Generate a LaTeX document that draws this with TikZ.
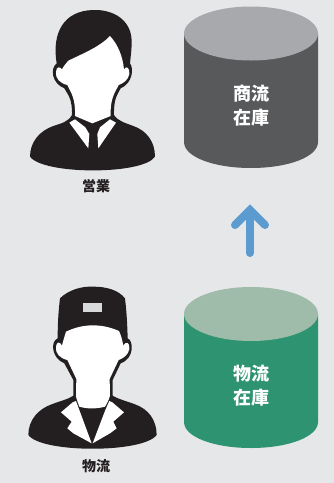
\documentclass[tikz,border=0pt]{standalone}
\usepackage{fontspec}
\newfontfamily\cjk{Noto Sans CJK JP}
\definecolor{bg}{HTML}{E6E7E9}
\definecolor{ink}{HTML}{231F20}
\definecolor{greytop}{HTML}{A7A9AC}
\definecolor{greybody}{HTML}{58595B}
\definecolor{greentop}{HTML}{9FBBA9}
\definecolor{greenbody}{HTML}{2E9370}
\definecolor{arrowblue}{HTML}{5B9BD0}
\definecolor{badge}{HTML}{D8D9DB}
\tikzset{
  cyltext/.style={text=white,font=\cjk\bfseries\fontsize{18}{24}\selectfont,align=center,inner sep=0pt},
  personlabel/.style={text=ink,font=\cjk\bfseries\fontsize{14}{15}\selectfont,inner sep=0pt},
  zoomed/.style={x=0.3333pt,y=-0.3333pt}
}
\begin{document}
\begin{tikzpicture}[x=1pt,y=-1pt]
\useasboundingbox (0,0) rectangle (334,483);
\fill[bg] (0,0) rectangle (334,483);

% sales person
\begin{scope}[shift={(10,0)},zoomed]
\fill[ink] (250,30) .. controls (310,28) and (365,60) .. (365,125)
  .. controls (365,150) and (362,170) .. (360,190)
  .. controls (372,205) and (368,250) .. (332,265)
  .. controls (322,285) and (311,295) .. (312,345)
  .. controls (325,365) and (350,370) .. (370,378)
  .. controls (410,392) and (435,425) .. (435,470)
  .. controls (400,525) and (100,525) .. (60,470)
  .. controls (60,425) and (90,392) .. (130,378)
  .. controls (155,370) and (175,365) .. (186,345)
  .. controls (187,295) and (174,285) .. (163,265)
  .. controls (125,250) and (120,205) .. (140,190)
  .. controls (125,100) and (160,32) .. (250,30) -- cycle;
\fill[white] (175,182) .. controls (220,160) and (270,140) .. (300,108)
  .. controls (325,135) and (338,170) .. (342,208)
  .. controls (350,195) and (360,205) .. (358,222)
  .. controls (355,240) and (340,250) .. (326,255)
  .. controls (315,278) and (300,295) .. (302,348)
  -- (247,370) -- (195,348)
  .. controls (197,295) and (183,278) .. (172,255)
  .. controls (150,250) and (135,235) .. (138,215)
  .. controls (140,198) and (150,200) .. (156,208)
  .. controls (160,200) and (168,190) .. (175,182) -- cycle;
\fill[white] (178,368) -- (195,358) -- (226,382) -- (238,402) -- (235,445) -- cycle;
\fill[white] (318,368) -- (300,358) -- (270,382) -- (262,402) -- (265,445) -- cycle;
\end{scope}

% logistics person
\begin{scope}[shift={(10,275)},zoomed]
\fill[ink] (150,70) .. controls (175,45) and (215,33) .. (250,35)
  .. controls (290,35) and (325,45) .. (345,70)
  .. controls (350,110) and (352,150) .. (353,190)
  .. controls (370,195) and (375,250) .. (332,265)
  -- (308,315) -- (308,362)
  .. controls (330,375) and (350,378) .. (375,388)
  .. controls (415,402) and (440,435) .. (440,480)
  .. controls (400,535) and (95,535) .. (55,480)
  .. controls (55,435) and (85,402) .. (125,388)
  .. controls (150,378) and (170,375) .. (190,362)
  -- (190,315) -- (163,265)
  .. controls (125,250) and (120,200) .. (143,190)
  .. controls (143,150) and (145,110) .. (150,70) -- cycle;
\fill[white] (168,170) .. controls (220,145) and (275,145) .. (327,168)
  .. controls (333,180) and (337,195) .. (340,212)
  .. controls (350,195) and (360,205) .. (358,222)
  .. controls (355,240) and (340,250) .. (326,255)
  -- (299,312) -- (300,362)
  .. controls (295,380) and (288,390) .. (285,395)
  .. controls (260,402) and (230,402) .. (208,395)
  .. controls (205,385) and (200,375) .. (198,365)
  -- (199,312) -- (172,255)
  .. controls (150,250) and (135,235) .. (138,215)
  .. controls (140,198) and (150,200) .. (156,212)
  .. controls (160,195) and (165,180) .. (168,170) -- cycle;
\fill[white] (188,382) -- (198,378) -- (208,405) -- (245,505) -- (190,475) -- (172,460) -- (185,440) -- (153,412) -- cycle;
\fill[white] (307,382) -- (298,378) -- (286,405) -- (248,505) -- (300,475) -- (320,460) -- (310,440) -- (342,412) -- cycle;
\fill[badge] (219,85) rectangle (276,110);
\end{scope}

% top cylinder
\fill[greybody] (184,33.5) -- (184,142) .. controls (184,157) and (214,168) .. (251,168)
  .. controls (288,168) and (318,157) .. (318,142) -- (318,33.5) -- cycle;
\fill[greytop] (251,33.5) ellipse [x radius=67,y radius=27];

% bottom cylinder
\fill[greenbody] (184,314) -- (184,422) .. controls (184,437) and (214,448) .. (251,448)
  .. controls (288,448) and (318,437) .. (318,422) -- (318,314) -- cycle;
\fill[greentop] (251,314) ellipse [x radius=67,y radius=27];

\node[cyltext] (stock1) at (251,106) {商流\\在庫};
\node[cyltext] (stock2) at (251,386) {物流\\在庫};
\node[personlabel] (sales) at (96,186) {営業};
\node[personlabel] (logi) at (96,466) {物流};

\coordinate (arrowfrom) at (250,253);
\coordinate (arrowto) at (250,210);
\coordinate (headl) at (235,225);
\coordinate (headr) at (265,225);
\draw[arrowblue,line width=8pt,line cap=round,line join=round] (arrowfrom) -- (arrowto);
\draw[arrowblue,line width=8pt,line cap=round,line join=miter] (headl) -- (arrowto) -- (headr);
\end{tikzpicture}
\end{document}
